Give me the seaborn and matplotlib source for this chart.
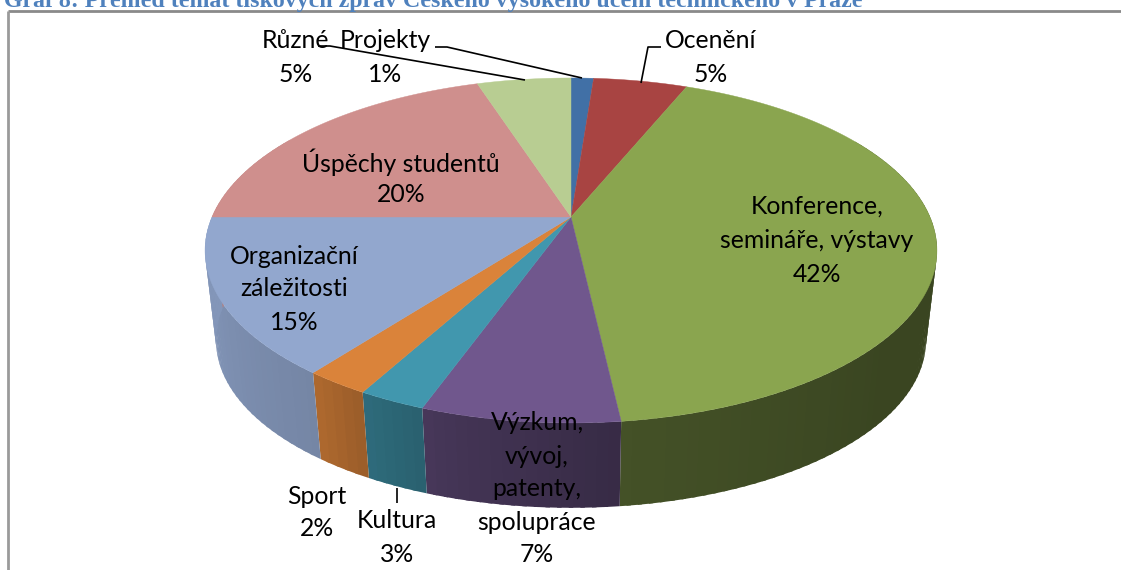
import numpy as np
import matplotlib
matplotlib.use('Agg')
import matplotlib.pyplot as plt
import seaborn as sns

# Values (clockwise from 12 o'clock)
categories = ['Projekty', 'Ocenění', 'Konference,\nsemináře, výstavy',
              'Výzkum,\nvývoj,\npatenty,\nspolupráce', 'Kultura', 'Sport',
              'Organizační\nzáležitosti', 'Úspěchy studentů', 'Různé']
shares = [1.2, 5.0, 42.0, 7.3, 2.5, 2.4, 14.6, 20.0, 5.0]
percent_labels = ['1%', '5%', '42%', '7%', '3%', '2%', '15%', '20%', '5%']
title = 'Graf 8: Přehled témat tiskových zpráv Českého vysokého učení technického v Praze'

slice_colors = ['#4170A6', '#A84442', '#8AA54F', '#70578D', '#4197AE',
                '#DA833A', '#92A7CE', '#CF8F8D', '#B8CD92']

sns.set_theme(style='white')
palette = sns.color_palette(slice_colors)
plt.rcParams['font.family'] = ['Lato', 'DejaVu Sans']

fig = plt.figure(figsize=(11.21, 5.70), dpi=100)
ax = fig.add_axes([0, 0, 1, 1])
ax.set_xlim(0, 1121)
ax.set_ylim(570, 0)
ax.axis('off')

# Perspective of the tilted disc: apex of the slices sits above the ellipse centre
APEX_X, APEX_Y = 571, 217
BASE_Y = 308
BASE_SCALE = 0.97


def project(theta, scale=1.0, apex_y=APEX_Y):
    u, v = np.sin(theta), -np.cos(theta)
    den = 1 - 0.194 * v
    return APEX_X + scale * 359 * u / den, apex_y + scale * 166 * v / den


edges = np.radians(np.concatenate([[0], np.cumsum(shares)]) * 3.6)

# Side wall, shaded by angle (light on the left, dark on the right)
shade_deg = [60, 130, 173, 195, 210, 217, 260, 300]
shade_val = [0.42, 0.42, 0.49, 0.60, 0.72, 0.80, 0.90, 0.90]
for i, color in enumerate(palette):
    t0, t1 = edges[i], edges[i + 1]
    n = max(2, int(np.degrees(t1 - t0) / 1.5))
    steps = np.linspace(t0, t1, n + 1)
    # strips are drawn a little wider than their step so no seams show
    for a, b in zip(steps[:-1], steps[1:]):
        mid = np.degrees((a + b) / 2)
        if mid < 60 or mid > 300:
            continue
        arc = np.linspace(a, min(t1, b + np.radians(0.6)), 4)
        tx, ty = project(arc)
        bx, by = project(arc[::-1], BASE_SCALE, BASE_Y)
        shade = np.interp(mid, shade_deg, shade_val)
        c = tuple(np.array(color) * shade)
        ax.fill(np.r_[tx, bx], np.r_[ty, by], facecolor=c, edgecolor='none', zorder=1)

# Top face
for i, color in enumerate(palette):
    arc = np.linspace(edges[i], edges[i + 1], 120)
    x, y = project(arc)
    ax.fill(np.r_[APEX_X, x], np.r_[APEX_Y, y], color=color, lw=0.3, zorder=2)

# Labels
label_xy = [(385, 41), (711, 41), (817, 206), (537, 423), (397, 521),
            (317, 496), (294, 257), (401, 162), (296, 41)]
pct_xy = [(385, 74), (711, 74), (817, 275), (537, 554), (397, 554),
          (317, 528), (294, 322), (401, 195), (296, 74)]
line_step = [0, 0, 35, 33, 0, 0, 32, 0, 0]
for name, pct, (lx, ly), (px, py), step in zip(categories, percent_labels, label_xy, pct_xy, line_step):
    for j, part in enumerate(name.split('\n')):
        ax.text(lx, ly + j * step, part, ha='center', va='center',
                fontsize=17.8, color='black', zorder=5)
    ax.text(px, py, pct, ha='center', va='center', fontsize=17.8, color='black', zorder=5)

# Leader lines
leaders = [([318, 330, 525], [46, 46, 80]),
           ([435, 447, 582], [47, 47, 78]),
           ([661, 648, 641], [47, 47, 83]),
           ([397, 397], [488, 503])]
for lx, ly in leaders:
    ax.plot(lx, ly, color='black', lw=1.2, zorder=4, solid_capstyle='butt')

# Chart frame (only top and left survive the crop) and cropped caption
ax.plot([7.5, 1121], [11, 11], color='#8A8A8A', lw=2, zorder=3, solid_capstyle='butt')
ax.plot([7.5, 7.5], [11, 570], color='#9A9A9A', lw=2, zorder=3, solid_capstyle='butt')
ax.text(4, 6.5, title, ha='left', va='baseline', fontsize=17.2, fontweight='bold',
        family='Liberation Serif', color='#4F81BD', zorder=3)

fig.savefig('out.png', dpi=100)
